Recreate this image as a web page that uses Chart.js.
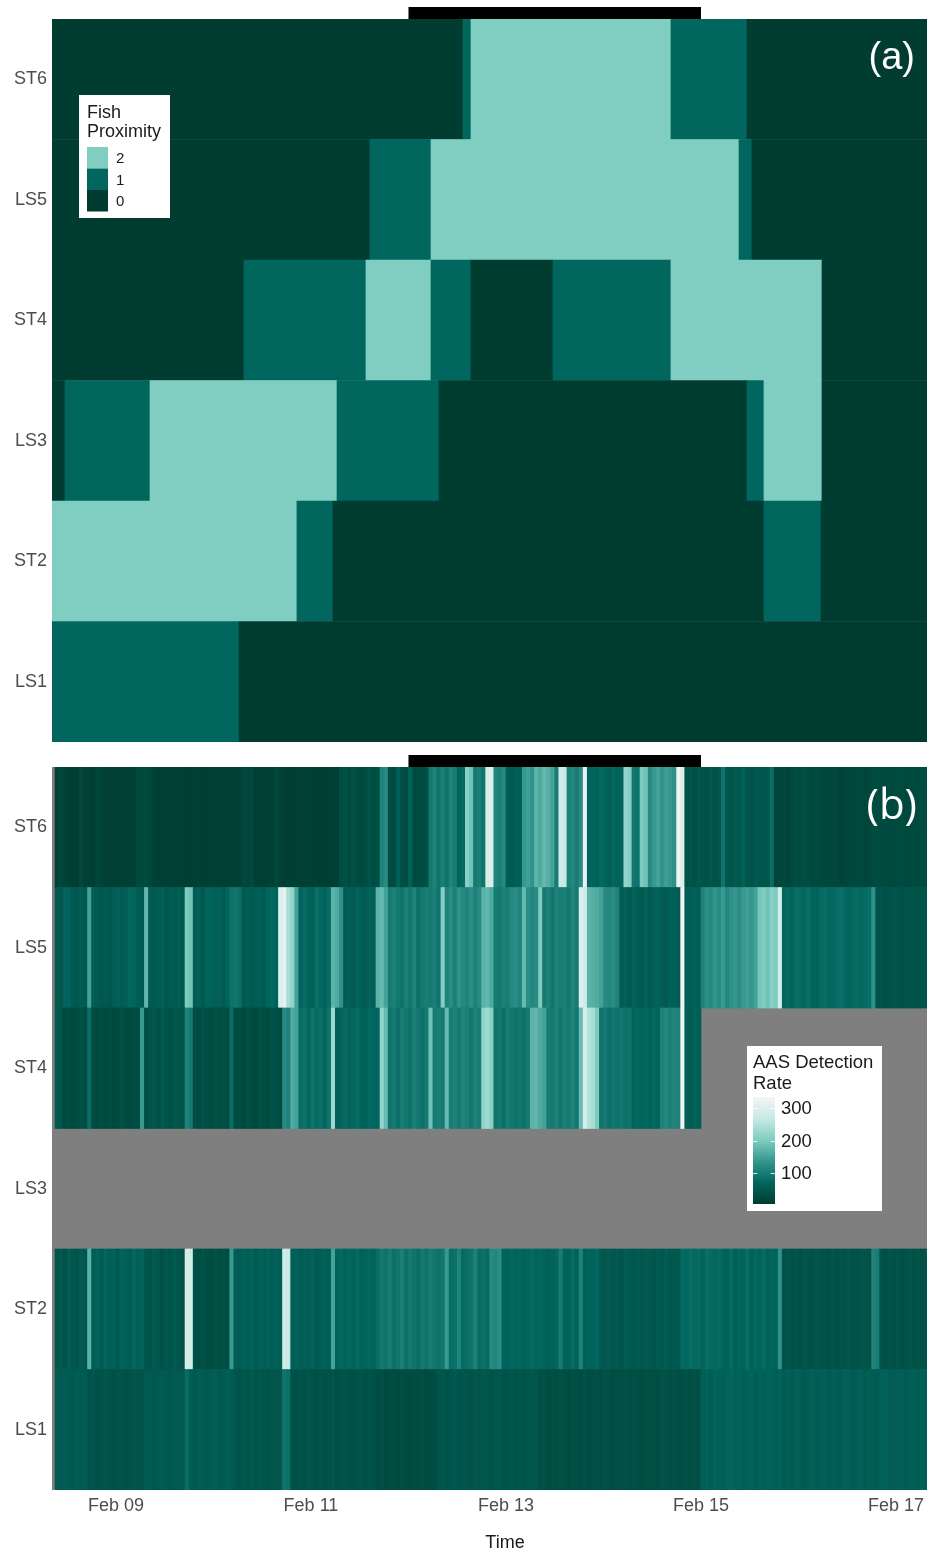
<!DOCTYPE html>
<html>
<head>
<meta charset="utf-8">
<title>Fish proximity and AAS detection rate</title>
<script src="https://cdn.jsdelivr.net/npm/chart.js@4.4.1/dist/chart.umd.min.js"></script>
<style>
  html, body { margin: 0; padding: 0; background: #ffffff; }
  #page { position: relative; width: 927px; height: 1554px; overflow: hidden; }
  canvas { position: absolute; left: 0; display: block; }
  #chartA { top: 0; }
  #chartB { top: 750px; }
</style>
</head>
<body>
<div id="page">
  <canvas id="chartA" width="927" height="750" style="width:927px;height:750px"></canvas>
  <canvas id="chartB" width="927" height="804" style="width:927px;height:804px"></canvas>
</div>
<script>
// ---- shared axis data -------------------------------------------------------
const stations = ['ST6', 'LS5', 'ST4', 'LS3', 'ST2', 'LS1'];
const timeRange = [8.344, 17.318];          // day of February shown on the time axis
const tickDays = [9, 11, 13, 15, 17];
const markedPeriod = [12, 15];              // black bar drawn above both panels

// ---- (a) fish proximity: runs of [start day, end day, level] -----------------
const proximityLevels = [2, 1, 0];
const proximityColors = { 0: '#003c30', 1: '#01665e', 2: '#80cdc1' };

const proxST6 = [[8.344, 12.559, 0], [12.559, 12.641, 1], [12.641, 14.692, 2], [14.692, 15.472, 1], [15.472, 17.318, 0]];
const proxLS5 = [[8.344, 11.605, 0], [11.605, 12.231, 1], [12.231, 15.390, 2], [15.390, 15.523, 1], [15.523, 17.318, 0]];
const proxST4 = [[8.344, 10.313, 0], [10.313, 11.564, 1], [11.564, 12.231, 2], [12.231, 12.641, 1], [12.641, 13.482, 0],
                 [13.482, 14.692, 1], [14.692, 16.241, 2], [16.241, 17.318, 0]];
const proxLS3 = [[8.344, 8.477, 0], [8.477, 9.349, 1], [9.349, 11.267, 2], [11.267, 12.313, 1], [12.313, 15.472, 0],
                 [15.472, 15.646, 1], [15.646, 16.241, 2], [16.241, 17.318, 0]];
const proxST2 = [[8.344, 10.856, 2], [10.856, 11.226, 1], [11.226, 15.646, 0], [15.646, 16.231, 1], [16.231, 17.318, 0]];
const proxLS1 = [[8.344, 10.262, 1], [10.262, 17.318, 0]];

// ---- (b) AAS detection rate, hourly bins starting Feb 08 09:00 ---------------
const rateStart = 8.375;
const rateST6 = [
  12,20,14,10,9,11,22,12,10,10,24,18,11,9,10,12,10,9,11,10,
  26,22,28,20,12,10,9,11,10,12,10,9,8,10,11,10,9,8,10,12,
  10,11,9,10,9,12,24,20,26,11,10,9,10,12,22,14,10,9,8,10,
  9,10,12,10,9,8,10,11,9,10,
  32,36,28,38,30,26,34,40,30,36,
  110,120,
  30,28,60,34,30,64,28,32,30,36,
  96,110,90,104,88,112,100,
  70,76, 210,190, 98,104,90, 290,300, 112,104,118,
  56,52,60,58, 138,146,132, 172,160,178,166,150, 100,
  280,270, 108,116,100,120, 320,
  66,70,62,74,68,60,72,64,70,
  220,210, 92,88, 200,190,120,
  140,150,132,146,138,128, 330,300,
  40,44,36,48,42,38,46,40,44, 90,
  46,42,50,48,62,44,40,52,46,44,48, 82,
  20,24,22,18,26,30,28,32,30,26,28,24,22,20,24,22,18,20,22,24,
  26,22,20,24,28,30,26,28,24,26,28,30,24,26,28,26,30,28
];
const rateLS5 = [
  50,46, 70,66, 52,48,56,50, 150, 60,54, 48,52,46, 58,62,54,60, 72,70, 56,52, 175,
  54,50,58,62,48,56,52,60,50, 200,190,
  56,60,52,70,64,58,62,54,66, 86,92,84,
  54,58,50,56,60,52, 70,74,68, 300,310, 240,220, 150,
  66,78,70,62,84,74,68,80, 170,160,130,
  56,62,50,68,58,54,64,60, 170,180,150, 100,106,96,
  88,104,92,110,84,98,102, 96,104,90, 205,
  110,124,104,130,118,112,126,108,120, 170,176,160, 100,96,108,102,
  118,124,112,180,126,116,120, 200,
  96,108,92,110,100,104,94,112,98, 300,280, 170,166,160,150, 120,116,124,110,
  56,62,50,68,58,54,64,52,60,66,56,50,62,58,54, 330, 60,58,64,56,
  110,126,118,134,122,140,116,128,136,124, 140,146,136,150,
  196,204,190,210,200, 290,
  72,78,70,80,76,74,82,70,68,76,80,74,72,78,84,76,70,74,78,72,76,80, 130,
  40,44,38,42,46,40,36,42,44,38,40,42,44
];
const rateST4 = [
  50,44, 28,34,26,30,36,28, 80,
  30,26,34,28,32,24,30,36,28,26,32,30, 140,
  34,40,46,38,50,42,36,48,44,40, 110,96,
  36,30,40,34,28,38,32,36,30, 80,
  28,34,26,38,30,24,36,32,28,40,34,30, 120,110,160, 150,
  80,86,74,90,78,84,72,88, 230,
  62,70,78,66,74,80,68,64,76,72,70, 220,180,
  90,96,84,100,92,88,104,94,86,98, 190, 100,106,98, 180,
  100,108,96,112,104,94,110,102, 220,230,210,
  90,96,84,100,92,88,94,86,98, 170,176,160,150,
  100,96,108,92,104,98,110,94, 180,290,250,240,200,
  90,96,84,92,88,94,86,90, 70,74,66,72,68,76,70,
  110,116,104,112,108, 330, 60,56,64,58
];
const rateLS3 = [];   // receiver offline for the whole deployment
const rateST2 = [
  44,52,40,56,48,42,54,46, 170,
  60,66,54,70,58,64,52,68,62,56,72,60,66,
  46,40,50,44,38,48,42,52,44,40, 290,280,
  36,32,40,34,30,38,34,36,32, 140,
  60,56,64,58,66,54,62,60,68,56,62,58, 280,270,
  60,64,56,62,58,66,54,60,64,58, 150,
  70,74,66,72,68,76,64,70,72,68,
  80,96,88,100,84,92,104,86,98,90,82,96,88,100,92,86,94, 140,
  80,84,110,76,82,88,108,80,86,78, 120,116,124,
  70,66,74,68,72,64,70,76,66,72,68,
  60,66,72,100,70,64,78,68,110,62,70,66,74,
  50,46,54,48,52,44,56,50,46,52,48,54,50,44,52,48,56,46,50,52,
  76,72,80,74,78,70,82,76,72,78,
  70,64,76,60,72,66,80,62,74,68,78,64,70,66, 130,
  40,44,38,42,36,44,40,38,46,42,40,36,44,38,42,40,46,38,40,44,42,38, 110,100,
  40,36,44,38,42,34,40,44,38,42,36,40
];
const rateLS1 = [
  56,52,58,54,50,56,52,54,
  40,44,38,42,46,40,36,42,44,38,40,46,42,40,
  50,54,48,52,56,50,46,52,54,50, 80,
  56,52,58,54,50,56,60,52,54,58,56,
  46,42,48,44,50,42,46,44,40,48,44,46, 90,84,
  40,36,42,38,44,40,36,42,38,40,44,36,40,42,38,36,40,44,38,42,40,
  30,34,28,32,30,26,34,30,28,32,30,34,28,30,32,
  44,48,40,46,50,42,48,44,40,46,42,48,44,40,46,50,42,44,48,40,46,42,44,48,46,
  34,38,30,36,32,38,34,30,36,34,32,38,30,34,36,32,38,34,30,36,
  34,38,32,36,34,30,38,34,36,32,40,36,34,38,32,36,40,34,38,36,
  62,66,58,70,64,60,68,72,62,66,60,64,70,58,66,62,68,64,60,66,
  56,60,54,62,58,52,60,64,56,58,62,54,60,58,56,64,60,54,58,62,
  56,60,58,54,62,64,58,56,60,62,54,58,60,56,62,58
];
const rateLimits = [5, 335];
const rateBreaks = [300, 200, 100];
const rateColors = ['#003c30', '#01665e', '#35978f', '#80cdc1', '#c7eae5', '#f5f5f5'];

// ---- helpers ----------------------------------------------------------------
const FONT = '"Liberation Sans", Arial, sans-serif';
Chart.defaults.font.family = FONT;

function hexToRgb(h) {
  const n = parseInt(h.slice(1), 16);
  return [(n >> 16) & 255, (n >> 8) & 255, n & 255];
}
const rateRgb = rateColors.map(hexToRgb);
function rateColor(v) {
  let t = (v - rateLimits[0]) / (rateLimits[1] - rateLimits[0]);
  t = Math.max(0, Math.min(1, t));
  const p = t * (rateRgb.length - 1);
  const i = Math.min(Math.floor(p), rateRgb.length - 2);
  const f = p - i;
  const a = rateRgb[i], b = rateRgb[i + 1];
  return 'rgb(' + [0, 1, 2].map(k => Math.round(a[k] + (b[k] - a[k]) * f)).join(',') + ')';
}

const proximityRuns = { ST6: proxST6, LS5: proxLS5, ST4: proxST4, LS3: proxLS3, ST2: proxST2, LS1: proxLS1 };
const rateSeries = { ST6: rateST6, LS5: rateLS5, ST4: rateST4, LS3: rateLS3, ST2: rateST2, LS1: rateLS1 };

const proximityData = [];
stations.forEach(st => {
  proximityRuns[st].forEach(([s, e, lvl]) => proximityData.push({ y: st, x: [s, e], v: lvl }));
});

const rateData = [];
stations.forEach(st => {
  rateSeries[st].forEach((v, i) => {
    if (v === null || v === undefined) return;
    rateData.push({ y: st, x: [rateStart + i / 24, rateStart + (i + 1) / 24], v: v });
  });
});

function yAxis() {
  return {
    type: 'category',
    position: 'left',
    grid: { display: false, drawTicks: false },
    border: { display: false },
    ticks: { color: '#4d4d4d', font: { family: FONT, size: 18 }, padding: 5 },
    afterFit: s => { s.width = 52; s.paddingTop = 0; s.paddingBottom = 0; }
  };
}

// black bar marking the highlighted period above the plot panel
const periodBar = {
  id: 'periodBar',
  afterDraw(chart) {
    const { ctx, chartArea, scales } = chart;
    const x0 = scales.x.getPixelForValue(markedPeriod[0]);
    const x1 = scales.x.getPixelForValue(markedPeriod[1]);
    ctx.save();
    ctx.fillStyle = '#000000';
    ctx.fillRect(x0, chartArea.top - 12, x1 - x0, 12);
    ctx.restore();
  }
};

// panel letter in the top-right corner
function panelTag(text, font, baselineOffset, rightInset) {
  return {
    id: 'panelTag',
    afterDraw(chart) {
      const { ctx, chartArea } = chart;
      ctx.save();
      ctx.fillStyle = '#ffffff';
      ctx.font = font;
      ctx.textAlign = 'right';
      ctx.textBaseline = 'alphabetic';
      ctx.fillText(text, chartArea.right - rightInset, chartArea.top + baselineOffset);
      ctx.restore();
    }
  };
}

// x-axis title, centred on the full panel width
const timeTitle = {
  id: 'timeTitle',
  afterDraw(chart) {
    const ctx = chart.ctx;
    ctx.save();
    ctx.fillStyle = '#1a1a1a';
    ctx.font = '18px ' + FONT;
    ctx.textAlign = 'center';
    ctx.textBaseline = 'middle';
    ctx.fillText('Time', 505, 1543 - 750);
    ctx.restore();
  }
};

// ---- (a) legend: discrete proximity keys --------------------------------------
const proximityLegend = {
  id: 'proximityLegend',
  afterDraw(chart) {
    const ctx = chart.ctx;
    ctx.save();
    ctx.fillStyle = '#ffffff';
    ctx.fillRect(79, 95, 91, 123);
    ctx.fillStyle = '#1a1a1a';
    ctx.font = '18px ' + FONT;
    ctx.textAlign = 'left';
    ctx.textBaseline = 'alphabetic';
    ctx.fillText('Fish', 87, 118);
    ctx.fillText('Proximity', 87, 137);
    proximityLevels.forEach((lvl, k) => {
      const y = 147 + k * 21.5;
      ctx.fillStyle = proximityColors[lvl];
      ctx.fillRect(87, y, 21, 21.5);
      ctx.fillStyle = '#1a1a1a';
      ctx.font = '15px ' + FONT;
      ctx.textBaseline = 'middle';
      ctx.fillText(String(lvl), 116, y + 12);
    });
    ctx.restore();
  }
};

// ---- (b) legend: continuous colour bar -----------------------------------------
const rateLegend = {
  id: 'rateLegend',
  afterDraw(chart) {
    const ctx = chart.ctx;
    const top = 1097 - 750, bottom = 1204 - 750, left = 753, w = 22;
    ctx.save();
    ctx.fillStyle = '#ffffff';
    ctx.fillRect(747, 1046 - 750, 135, 165);
    ctx.fillStyle = '#1a1a1a';
    ctx.font = '18.5px ' + FONT;
    ctx.textAlign = 'left';
    ctx.textBaseline = 'alphabetic';
    ctx.fillText('AAS Detection', 753, 1068 - 750);
    ctx.fillText('Rate', 753, 1089 - 750);
    const g = ctx.createLinearGradient(0, bottom, 0, top);
    rateColors.forEach((c, i) => g.addColorStop(i / (rateColors.length - 1), c));
    ctx.fillStyle = g;
    ctx.fillRect(left, top, w, bottom - top);
    const toY = v => bottom - (v - rateLimits[0]) / (rateLimits[1] - rateLimits[0]) * (bottom - top);
    ctx.strokeStyle = 'rgba(255,255,255,0.8)';
    ctx.lineWidth = 1;
    ctx.font = '18.5px ' + FONT;
    rateBreaks.forEach(v => {
      const y = Math.round(toY(v)) + 0.5;
      ctx.beginPath();
      ctx.moveTo(left, y); ctx.lineTo(left + 4.4, y);
      ctx.moveTo(left + w - 4.4, y); ctx.lineTo(left + w, y);
      ctx.stroke();
      ctx.fillStyle = '#1a1a1a';
      ctx.textBaseline = 'middle';
      ctx.fillText(String(v), 781, toY(v) + 1);
    });
    ctx.restore();
  }
};

// grey fill for hours without detection data
const missingFill = {
  id: 'missingFill',
  beforeDatasetsDraw(chart) {
    const { ctx, chartArea } = chart;
    ctx.save();
    ctx.fillStyle = '#7f7f7f';
    ctx.fillRect(chartArea.left, chartArea.top, chartArea.right - chartArea.left, chartArea.bottom - chartArea.top);
    ctx.restore();
  }
};

const baseOptions = {
  responsive: false,
  devicePixelRatio: 1,
  animation: false,
  events: [],
  indexAxis: 'y',
  plugins: { legend: { display: false }, tooltip: { enabled: false } }
};

new Chart(document.getElementById('chartA'), {
  type: 'bar',
  data: {
    labels: stations,
    datasets: [{
      data: proximityData,
      backgroundColor: c => proximityColors[c.raw.v],
      borderWidth: 0,
      barPercentage: 1,
      categoryPercentage: 1
    }]
  },
  options: Object.assign({}, baseOptions, {
    layout: { padding: { top: 19, bottom: 8, left: 0, right: 0 } },
    scales: {
      x: { type: 'linear', min: timeRange[0], max: timeRange[1], display: false },
      y: yAxis()
    }
  }),
  plugins: [periodBar, panelTag('(a)', '38px ' + FONT, 50, 12), proximityLegend]
});

new Chart(document.getElementById('chartB'), {
  type: 'bar',
  data: {
    labels: stations,
    datasets: [{
      data: rateData,
      backgroundColor: c => rateColor(c.raw.v),
      borderWidth: 0,
      barPercentage: 1,
      categoryPercentage: 1
    }]
  },
  options: Object.assign({}, baseOptions, {
    layout: { padding: { top: 17, bottom: 0, left: 0, right: 0 } },
    scales: {
      x: {
        type: 'linear',
        position: 'bottom',
        min: timeRange[0],
        max: timeRange[1],
        grid: { display: false, drawTicks: false },
        border: { display: false },
        afterBuildTicks: s => { s.ticks = tickDays.map(v => ({ value: v })); },
        ticks: {
          color: '#4d4d4d',
          font: { family: FONT, size: 18 },
          padding: 5,
          maxRotation: 0,
          autoSkip: false,
          callback: v => 'Feb ' + String(v).padStart(2, '0')
        },
        title: { display: false },
        afterFit: s => { s.height = 64; s.paddingLeft = 0; s.paddingRight = 0; }
      },
      y: yAxis()
    }
  }),
  plugins: [missingFill, periodBar, panelTag('(b)', '42px "Open Sans", ' + FONT, 52, 10), rateLegend, timeTitle]
});
</script>
</body>
</html>
